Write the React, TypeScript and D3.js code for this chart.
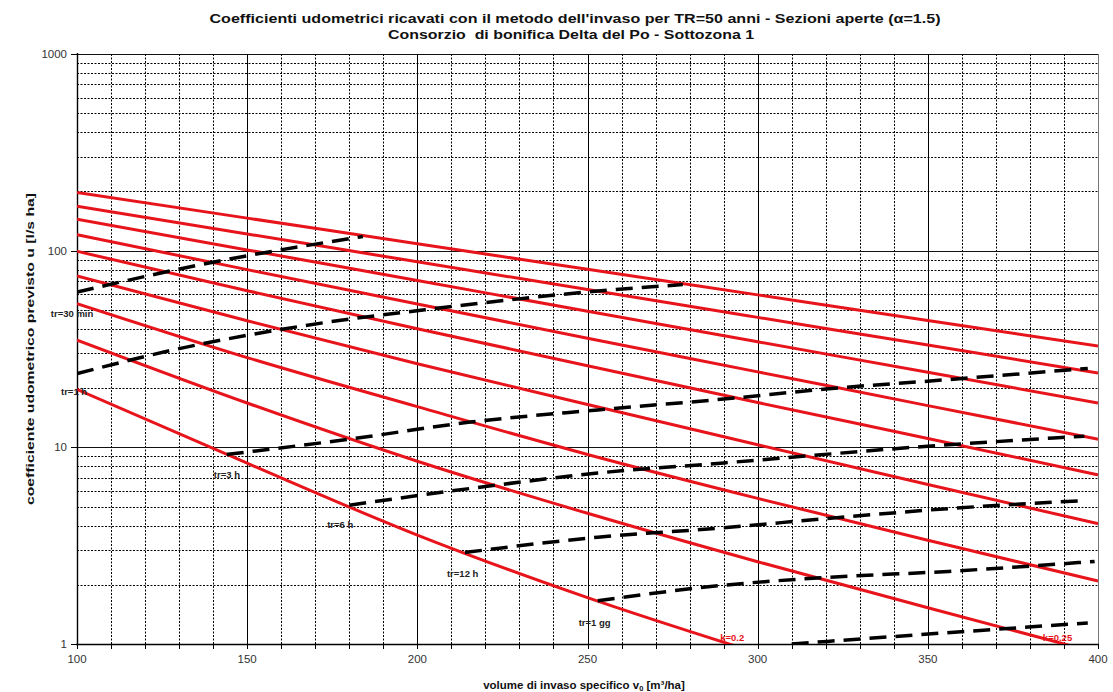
import React, { useEffect, useRef } from "react";
import * as d3 from "d3";

// volumes (x) where the red curves were read
const volumes = [100, 150, 200, 250, 300, 350, 400];

// red curves, u [l/s ha] at each volume (top to bottom)
const redA = [197.5, 146.4, 108.4, 80.4, 59.6, 44.2, 32.7];
const redB = [168.4, 121.6, 87.8, 63.4, 45.8, 33.1, 23.9];
const redC = [144.5, 100.9, 70.5, 49.2, 34.4, 24.1, 16.8];
const redD = [120.6, 80.1, 53.5, 35.9, 24.2, 16.3, 11.0];
const redE = [99.3, 62.6, 40.1, 26.0, 16.9, 11.1, 7.25];
const redF = [74.4, 44.0, 26.6, 16.5, 10.3, 6.47, 4.09];
const redG = [53.8, 28.6, 16.1, 9.2, 5.5, 3.37, 2.09];
const redH = [35.1, 16.8, 8.5, 4.62, 2.62, 1.53, 0.9];
const redI = [19.7, 8.3, 3.58, 1.72, 0.9];

// dashed lines at constant tr
const tr30minV = [100, 137, 184];
const tr30minU = [61.6, 85.4, 118];
const tr1hV = [100, 128, 167, 207, 253, 278];
const tr1hU = [23.7, 31.2, 41.6, 51.2, 62.3, 67.2];
const tr3hV = [144, 180, 215, 253, 290, 320, 356, 397];
const tr3hU = [9.2, 11.0, 13.4, 15.5, 17.6, 19.8, 22.1, 25.2];
const tr6hV = [180, 220, 253, 290, 349, 396];
const tr6hU = [5.08, 6.32, 7.4, 8.33, 10.1, 11.4];
const tr12hV = [214, 253, 290, 320, 356, 395];
const tr12hU = [2.92, 3.49, 3.9, 4.34, 4.88, 5.35];
const tr1ggV = [253, 290, 320, 356, 399];
const tr1ggU = [1.66, 1.99, 2.18, 2.34, 2.63];
const tr2ggV = [310, 346, 397];
const tr2ggU = [1.0, 1.11, 1.28];

// curve labels: text, anchor volume, anchor u (baseline, start)
const trLabels = ["tr=30 min", "tr=1 h", "tr=3 h", "tr=6 h", "tr=12 h", "tr=1 gg"];
const trLabelV = [92.3, 95.3, 140.2, 173.5, 208.7, 247.4];
const trLabelU = [46.2, 18.5, 7.02, 3.91, 2.2, 1.24];
const kLabels = ["k=0.2", "k=0.25"];
const kLabelV = [289, 383.8];
const kLabelU = [1.035, 1.035];

const xTicks = [100, 150, 200, 250, 300, 350, 400];
const yTicks = [1, 10, 100, 1000];

const W = 1113;
const H = 692;
const FONT = "'Liberation Sans', Arial, sans-serif";

const App = () => {
  const svgRef = useRef(null);

  useEffect(() => {
    const svg = d3.select(svgRef.current);
    svg.selectAll("*").remove();

    const x = d3.scaleLinear().domain([100, 400]).range([77, 1098]);
    const y = d3.scaleLog().domain([1, 1000]).range([644, 54]);
    const crisp = (v) => Math.round(v) + 0.5;

    svg
      .append("defs")
      .append("clipPath")
      .attr("id", "plotClip")
      .append("rect")
      .attr("x", 77)
      .attr("y", 54)
      .attr("width", 1098 - 77)
      .attr("height", 644 - 54);

    // grid
    const grid = svg.append("g");
    d3.range(110, 401, 10).forEach((v) => {
      const major = v % 50 === 0;
      grid
        .append("line")
        .attr("x1", crisp(x(v)))
        .attr("x2", crisp(x(v)))
        .attr("y1", 54)
        .attr("y2", 644)
        .attr("stroke", v === 400 ? "#777" : "#000")
        .attr("stroke-width", 1)
        .attr("stroke-dasharray", major ? null : "2,1.5");
    });
    const yGrid = [];
    [1, 10, 100].forEach((d) => d3.range(2, 10).forEach((m) => yGrid.push(d * m)));
    yGrid.forEach((u) => {
      grid
        .append("line")
        .attr("x1", 77)
        .attr("x2", 1098)
        .attr("y1", crisp(y(u)))
        .attr("y2", crisp(y(u)))
        .attr("stroke", "#000")
        .attr("stroke-dasharray", "2,1.5");
    });
    [10, 100, 1000].forEach((u) => {
      grid
        .append("line")
        .attr("x1", 77)
        .attr("x2", 1098)
        .attr("y1", crisp(y(u)))
        .attr("y2", crisp(y(u)))
        .attr("stroke", "#111");
    });

    // axes
    const axes = svg.append("g").attr("stroke", "#000");
    axes.append("line").attr("x1", crisp(x(100))).attr("x2", crisp(x(100))).attr("y1", 53).attr("y2", 645).attr("stroke-width", 1.4);
    axes.append("line").attr("x1", 76).attr("x2", 1099).attr("y1", crisp(y(1))).attr("y2", crisp(y(1))).attr("stroke-width", 1.4);
    yTicks.forEach((u) => {
      axes.append("line").attr("x1", 71).attr("x2", 77).attr("y1", crisp(y(u))).attr("y2", crisp(y(u)));
    });
    d3.range(100, 401, 10).forEach((v) => {
      axes.append("line").attr("x1", crisp(x(v))).attr("x2", crisp(x(v))).attr("y1", 644).attr("y2", 649);
    });

    const labels = svg.append("g").attr("font-family", FONT).attr("font-size", 11.5).attr("fill", "#333");
    yTicks.forEach((u) => {
      labels.append("text").attr("x", 67).attr("y", y(u)).attr("dy", "0.36em").attr("text-anchor", "end").text(u);
    });
    xTicks.forEach((v) => {
      labels.append("text").attr("x", x(v)).attr("y", 663).attr("text-anchor", "middle").text(v);
    });

    // curves
    const plot = svg.append("g").attr("clip-path", "url(#plotClip)");
    const line = d3
      .line()
      .x((d) => x(d[0]))
      .y((d) => y(d[1]))
      .curve(d3.curveMonotoneX);

    [redA, redB, redC, redD, redE, redF, redG, redH, redI].forEach((s) => {
      plot
        .append("path")
        .attr("d", line(s.map((u, i) => [volumes[i], u])))
        .attr("fill", "none")
        .attr("stroke", "#e8141b")
        .attr("stroke-width", 3);
    });

    [
      [tr30minV, tr30minU],
      [tr1hV, tr1hU],
      [tr3hV, tr3hU],
      [tr6hV, tr6hU],
      [tr12hV, tr12hU],
      [tr1ggV, tr1ggU],
      [tr2ggV, tr2ggU],
    ].forEach(([vs, us]) => {
      plot
        .append("path")
        .attr("d", line(vs.map((v, i) => [v, us[i]])))
        .attr("fill", "none")
        .attr("stroke", "#000")
        .attr("stroke-width", 3.5)
        .attr("stroke-dasharray", "17,9");
    });

    const curveLabels = svg.append("g").attr("font-family", FONT).attr("font-size", 9.5).attr("font-weight", "bold");
    trLabels.forEach((t, i) => {
      curveLabels.append("text").attr("x", x(trLabelV[i])).attr("y", y(trLabelU[i])).attr("fill", "#222").text(t);
    });
    kLabels.forEach((t, i) => {
      curveLabels.append("text").attr("x", x(kLabelV[i])).attr("y", y(kLabelU[i])).attr("fill", "#e8141b").text(t);
    });

    // titles
    const titles = svg.append("g").attr("font-family", FONT).attr("font-weight", "bold").attr("fill", "#111");
    titles
      .append("text")
      .attr("x", 575)
      .attr("y", 23)
      .attr("text-anchor", "middle")
      .attr("font-size", 13.5)
      .attr("textLength", 731)
      .attr("lengthAdjust", "spacingAndGlyphs")
      .text("Coefficienti udometrici ricavati con il metodo dell'invaso per TR=50 anni - Sezioni aperte (\u03b1=1.5)");
    titles
      .append("text")
      .attr("x", 571)
      .attr("y", 39)
      .attr("text-anchor", "middle")
      .attr("font-size", 13.5)
      .attr("textLength", 366)
      .attr("lengthAdjust", "spacingAndGlyphs")
      .text("Consorzio \u00a0di bonifica Delta del Po - Sottozona 1");

    const xLab = titles
      .append("text")
      .attr("x", 584)
      .attr("y", 689)
      .attr("text-anchor", "middle")
      .attr("font-size", 11.5);
    xLab.append("tspan").text("volume di invaso specifico v");
    xLab.append("tspan").attr("font-size", 7.5).attr("dy", 2).text("0");
    xLab.append("tspan").attr("dy", -2).text(" [m\u00b3/ha]");

    titles
      .append("text")
      .attr("transform", `translate(34, ${(54 + 644) / 2}) rotate(-90)`)
      .attr("text-anchor", "middle")
      .attr("font-size", 11.5)
      .attr("textLength", 312)
      .attr("lengthAdjust", "spacingAndGlyphs")
      .text("coefficiente udometrico previsto u [l/s ha]");
  }, []);

  return (
    <svg
      ref={svgRef}
      width={W}
      height={H}
      style={{ position: "absolute", left: 0, top: 0, background: "#fff" }}
    />
  );
};

export default App;
